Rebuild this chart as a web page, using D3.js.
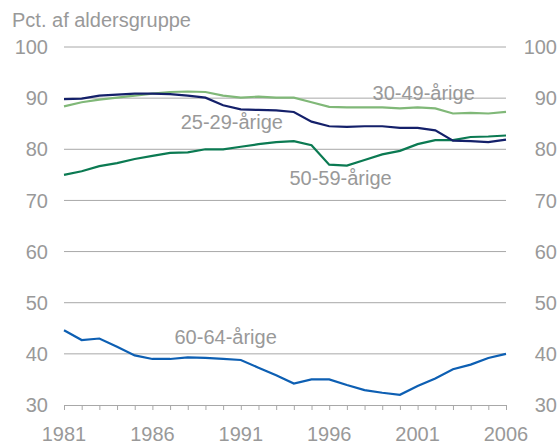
<!DOCTYPE html>
<html>
<head>
<meta charset="utf-8">
<script src="https://d3js.org/d3.v7.min.js"></script>
<style>
  body { margin: 0; background: #fff; }
  text { font-family: "Liberation Sans", Arial, sans-serif; fill: #999; }
</style>
</head>
<body>
<div id="chart"></div>
<script>
var years = d3.range(1981, 2007);
var yTicks = [30, 40, 50, 60, 70, 80, 90, 100];
var xTicks = [1981, 1986, 1991, 1996, 2001, 2006];

var s2529 = [89.8, 89.9, 90.5, 90.7, 90.9, 90.9, 90.8, 90.5, 90.1, 88.6, 87.8, 87.7, 87.6, 87.3, 85.4, 84.5, 84.4, 84.5, 84.5, 84.2, 84.2, 83.7, 81.7, 81.6, 81.4, 81.9];
var s3049 = [88.4, 89.2, 89.7, 90.1, 90.5, 90.9, 91.2, 91.3, 91.2, 90.5, 90.1, 90.3, 90.1, 90.1, 89.2, 88.3, 88.2, 88.2, 88.2, 88.0, 88.2, 88.0, 87.0, 87.1, 87.0, 87.3];
var s5059 = [75.0, 75.7, 76.7, 77.3, 78.1, 78.7, 79.3, 79.4, 80.0, 80.0, 80.5, 81.0, 81.4, 81.6, 80.8, 77.0, 76.8, 77.9, 79.0, 79.7, 81.0, 81.8, 81.8, 82.4, 82.5, 82.7];
var s6064 = [44.6, 42.7, 43.0, 41.4, 39.7, 39.0, 39.0, 39.3, 39.2, 39.0, 38.8, 37.3, 35.8, 34.2, 35.0, 35.0, 33.9, 32.9, 32.4, 32.0, 33.7, 35.2, 37.0, 37.9, 39.2, 40.0];

var series = [
  {name: "30-49-årige", values: s3049, color: "#80b878", lx: 1998.45, ly: 91.1},
  {name: "50-59-årige", values: s5059, color: "#0b7a52", lx: 1993.75, ly: 74.4},
  {name: "25-29-årige", values: s2529, color: "#14206a", lx: 1987.6, ly: 85.4},
  {name: "60-64-årige", values: s6064, color: "#0d5fb3", lx: 1987.25, ly: 43.4}
];

var width = 559, height = 444;
var margin = {top: 47, left: 64, right: 53, bottom: 39};

var svg = d3.select("#chart").append("svg")
  .attr("width", width).attr("height", height);

var x = d3.scaleLinear().domain([1981, 2006]).range([margin.left, width - margin.right]);
var y = d3.scaleLinear().domain([30, 100]).range([height - margin.bottom, margin.top]);

// gridlines
svg.append("g").selectAll("line")
  .data(yTicks.filter(function (d) { return d > 30; }))
  .enter().append("line")
  .attr("x1", x(1981)).attr("x2", x(2006))
  .attr("y1", function (d) { return y(d); })
  .attr("y2", function (d) { return y(d); })
  .attr("stroke", "#a8a8a8").attr("stroke-width", 1);

// bottom axis with yearly ticks
var xAxis = svg.append("g")
  .attr("transform", "translate(0," + y(30) + ")")
  .call(d3.axisBottom(x).tickValues(years).tickSize(5).tickSizeOuter(0).tickFormat(""));
xAxis.selectAll("line, path").attr("stroke", "#a8a8a8");

svg.append("g").selectAll("text")
  .data(xTicks).enter().append("text")
  .attr("x", function (d) { return x(d); })
  .attr("y", 441)
  .attr("text-anchor", "middle")
  .attr("font-size", 20)
  .text(function (d) { return d; });

// y labels left and right
svg.append("g").selectAll("text")
  .data(yTicks).enter().append("text")
  .attr("x", 48)
  .attr("y", function (d) { return y(d); })
  .attr("dy", "0.36em")
  .attr("text-anchor", "end")
  .attr("font-size", 20)
  .text(function (d) { return d; });

svg.append("g").selectAll("text")
  .data(yTicks).enter().append("text")
  .attr("x", 557)
  .attr("y", function (d) { return y(d); })
  .attr("dy", "0.36em")
  .attr("text-anchor", "end")
  .attr("font-size", 20)
  .text(function (d) { return d; });

svg.append("text")
  .attr("x", 12).attr("y", 27)
  .attr("font-size", 20)
  .text("Pct. af aldersgruppe");

var line = d3.line()
  .x(function (d, i) { return x(years[i]); })
  .y(function (d) { return y(d); });

svg.append("g").selectAll("path")
  .data(series).enter().append("path")
  .attr("d", function (d) { return line(d.values); })
  .attr("fill", "none")
  .attr("stroke", function (d) { return d.color; })
  .attr("stroke-width", 2.2);

svg.append("g").selectAll("text")
  .data(series).enter().append("text")
  .attr("x", function (d) { return x(d.lx); })
  .attr("y", function (d) { return y(d.ly); })
  .attr("dy", "0.36em")
  .attr("font-size", 20)
  .text(function (d) { return d.name; });
</script>
</body>
</html>
